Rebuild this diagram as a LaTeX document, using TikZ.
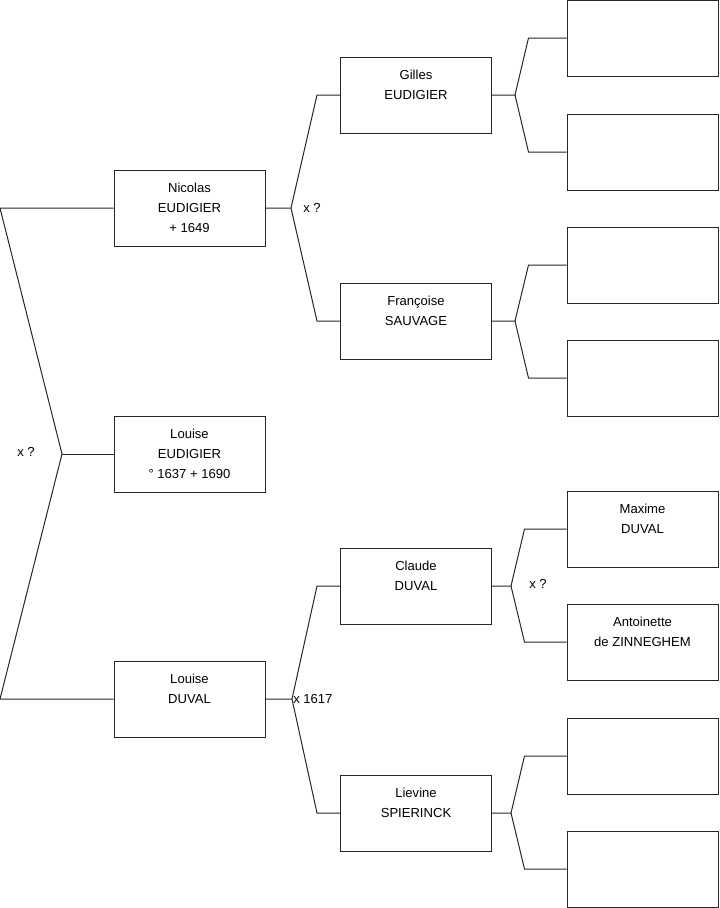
\documentclass[tikz,border=0pt]{standalone}
\usepackage{fontspec}
\setmainfont{Liberation Sans}
\tikzset{
  box/.style={draw=black!85,line width=0.75pt,minimum width=113.25pt,minimum height=57pt,inner sep=0pt},
  who/.style={anchor=north,yshift=-9.7pt,align=center,inner sep=0pt,font=\fontsize{9.8}{15}\selectfont},
  wed/.style={anchor=west,inner sep=0pt,font=\fontsize{9.8}{11}\selectfont},
  link/.style={draw=black!85,line width=0.75pt}
}
\begin{document}
\begin{tikzpicture}[x=0.75pt,y=-0.75pt]
\useasboundingbox (0,0) rectangle (719,908);
\node[box] (nicolas) at (189.5,208) {};
\node[box] (louiseE) at (189.5,454) {};
\node[box] (louiseD) at (189.5,699) {};
\node[box] (gilles) at (416,95) {};
\node[box] (francoise) at (416,321) {};
\node[box] (claude) at (416,586) {};
\node[box] (lievine) at (416,813) {};
\node[box] (gil1) at (642.5,38) {};
\node[box] (gil2) at (642.5,152) {};
\node[box] (fra1) at (642.5,265) {};
\node[box] (fra2) at (642.5,378) {};
\node[box] (maxime) at (642.5,529) {};
\node[box] (antoinette) at (642.5,642) {};
\node[box] (lie1) at (642.5,756) {};
\node[box] (lie2) at (642.5,869) {};
\node[who] (tnicolas) at (nicolas.north) {Nicolas\\EUDIGIER\\+ 1649};
\node[who] (tlouiseE) at (louiseE.north) {Louise\\EUDIGIER\\° 1637 + 1690};
\node[who] (tlouiseD) at (louiseD.north) {Louise\\DUVAL};
\node[who] (tgilles) at (gilles.north) {Gilles\\EUDIGIER};
\node[who] (tfrancoise) at (francoise.north) {Françoise\\SAUVAGE};
\node[who] (tclaude) at (claude.north) {Claude\\DUVAL};
\node[who] (tlievine) at (lievine.north) {Lievine\\SPIERINCK};
\node[who] (tmaxime) at (maxime.north) {Maxime\\DUVAL};
\node[who] (tantoinette) at (antoinette.north) {Antoinette\\de ZINNEGHEM};
\coordinate (f0) at (62,454);
\coordinate (f0a) at (0,208);
\coordinate (f0b) at (0,699);
\coordinate (fn) at (291,208);
\coordinate (fd) at (292,699);
\coordinate (fg) at (515,95);
\coordinate (ff) at (515,321);
\coordinate (fc) at (511,586);
\coordinate (fl) at (511,813);
\draw[link] (nicolas.west) -- (f0a) -- (f0) -- (f0b) -- (louiseD.west);
\draw[link] (f0) -- (louiseE.west);
\draw[link] (gilles.west) -- ++(-23,0) -- (fn) -- (nicolas.east);
\draw[link] (francoise.west) -- ++(-23,0) -- (fn);
\draw[link] (claude.west) -- ++(-23,0) -- (fd) -- (louiseD.east);
\draw[link] (lievine.west) -- ++(-23,0) -- (fd);
\draw[link] (gil1.west) -- ++(-38,0) -- (fg) -- (gilles.east);
\draw[link] (gil2.west) -- ++(-38,0) -- (fg);
\draw[link] (fra1.west) -- ++(-38,0) -- (ff) -- (francoise.east);
\draw[link] (fra2.west) -- ++(-38,0) -- (ff);
\draw[link] (maxime.west) -- ++(-42,0) -- (fc) -- (claude.east);
\draw[link] (antoinette.west) -- ++(-42,0) -- (fc);
\draw[link] (lie1.west) -- ++(-42,0) -- (fl) -- (lievine.east);
\draw[link] (lie2.west) -- ++(-42,0) -- (fl);
\node[wed] (w0) at (17,452) {x ?};
\node[wed] (wn) at (303,208) {x ?};
\node[wed] (wd) at (293,699) {x 1617};
\node[wed] (wc) at (529,584) {x ?};
\end{tikzpicture}
\end{document}
